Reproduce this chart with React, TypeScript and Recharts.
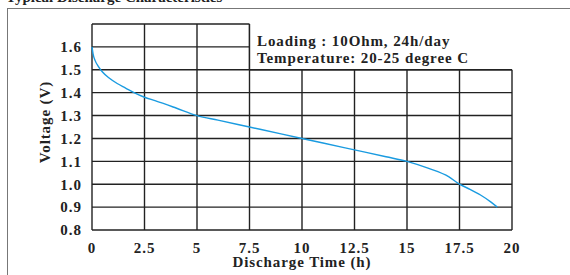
import { LineChart, Line, XAxis, YAxis, CartesianGrid, ReferenceArea, ReferenceLine, Label } from "recharts";

const hours = [0, 0.05, 0.15, 0.3, 0.5, 0.8, 1.2, 1.6, 2, 2.5, 3, 4, 5, 6, 7, 7.5, 8, 9, 10, 11, 12, 12.5, 13, 14, 15, 16, 17, 17.5, 18, 18.5, 19, 19.3];
const volts = [1.6, 1.57, 1.54, 1.515, 1.49, 1.465, 1.44, 1.42, 1.4, 1.38, 1.365, 1.333, 1.3, 1.28, 1.26, 1.25, 1.24, 1.22, 1.2, 1.18, 1.16, 1.15, 1.14, 1.12, 1.1, 1.07, 1.032, 1.0, 0.978, 0.953, 0.922, 0.9];
const xTicks = [0, 2.5, 5, 7.5, 10, 12.5, 15, 17.5, 20];
const yTicks = [0.8, 0.9, 1.0, 1.1, 1.2, 1.3, 1.4, 1.5, 1.6, 1.7];

const data = hours.map((t, i) => ({ t, v: volts[i] }));

const font = '"Liberation Serif", "Times New Roman", serif';
const gridColor = "#222";
const textColor = "#222";

const tickStyle = { fontFamily: font, fontSize: 15, fontWeight: 700, fill: textColor, letterSpacing: 1 };
const titleStyle = { fontFamily: font, fontSize: 15, fontWeight: 700, fill: textColor, letterSpacing: 0.9 };

export default function App() {
  return (
    <div style={{ position: "fixed", left: 0, top: 0, width: 570, height: 275, overflow: "hidden", background: "#fff", fontFamily: font }}>
      <div style={{ position: "absolute", left: 7, top: 8, width: 620, height: 320, borderTop: "1.5px solid #777", borderLeft: "1.5px solid #777", boxSizing: "border-box" }} />
      <div style={{ position: "absolute", left: 6, top: -11, fontSize: 15, fontWeight: 700, lineHeight: "16px", color: textColor, whiteSpace: "nowrap" }}>
        Typical Discharge Characteristics
      </div>
      <div style={{ position: "absolute", left: 0, top: 0 }}>
        <LineChart width={570} height={275} data={data} margin={{ top: 24, right: 58, bottom: 15, left: 30 }}>
          <CartesianGrid stroke={gridColor} strokeWidth={1.4} />
          <XAxis
            dataKey="t"
            type="number"
            domain={[0, 20]}
            ticks={xTicks}
            height={30}
            axisLine={false}
            tickLine={false}
            tickSize={6}
            tickMargin={6}
            tick={tickStyle}
            interval={0}
          >
            <Label
              content={({ viewBox }: any) => (
                <text x={viewBox.x + viewBox.width / 2} y={267} textAnchor="middle" style={titleStyle}>
                  Discharge Time (h)
                </text>
              )}
            />
          </XAxis>
          <YAxis
            type="number"
            domain={[0.8, 1.7]}
            ticks={yTicks}
            width={62}
            axisLine={false}
            tickLine={false}
            tickSize={6}
            tickMargin={4}
            tick={tickStyle}
            interval={0}
            tickFormatter={(v: number) => (v > 1.65 ? "" : v.toFixed(1))}
          >
            <Label
              content={({ viewBox }: any) => {
                const cx = viewBox.x + 15;
                const cy = viewBox.y + viewBox.height / 2 - 5;
                return (
                  <text x={cx} y={cy} transform={`rotate(-90 ${cx} ${cy})`} textAnchor="middle" dominantBaseline="central" style={titleStyle}>
                    Voltage (V)
                  </text>
                );
              }}
            />
          </YAxis>
          <ReferenceArea x1={7.5} x2={20.2} y1={1.5} y2={1.73} fill="#fff" fillOpacity={1} stroke="none" ifOverflow="visible" />
          <ReferenceLine segment={[{ x: 7.5, y: 1.5 }, { x: 7.5, y: 1.7 }]} stroke={gridColor} strokeWidth={1.4} />
          <ReferenceLine segment={[{ x: 7.5, y: 1.5 }, { x: 20, y: 1.5 }]} stroke={gridColor} strokeWidth={1.4} />
          <Line dataKey="v" type="monotone" stroke="#1a9be0" strokeWidth={1.4} dot={false} isAnimationActive={false} />
        </LineChart>
      </div>
      <div style={{ position: "absolute", left: 257, top: 33, fontSize: 15, fontWeight: 700, lineHeight: "17px", color: textColor, whiteSpace: "nowrap", letterSpacing: 0.9 }}>
        <div>Loading : 10Ohm, 24h/day</div>
        <div>Temperature: 20-25 degree C</div>
      </div>
    </div>
  );
}
